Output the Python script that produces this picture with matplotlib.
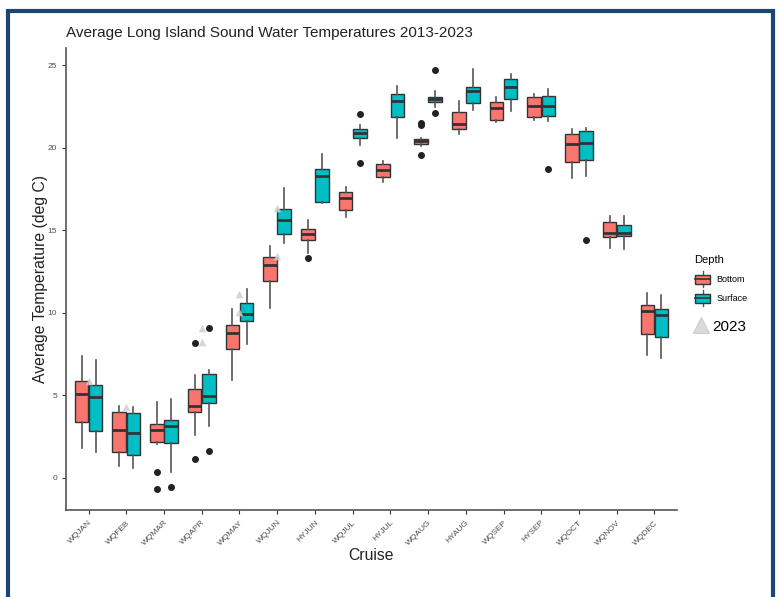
import numpy as np
import matplotlib.pyplot as plt
from matplotlib.patches import Rectangle
from matplotlib.lines import Line2D
from matplotlib.legend_handler import HandlerBase

plt.rcParams['font.family'] = ['Liberation Sans', 'DejaVu Sans']

cruises = ['WQJAN', 'WQFEB', 'WQMAR', 'WQAPR', 'WQMAY', 'WQJUN', 'HYJUN', 'WQJUL',
           'HYJUL', 'WQAUG', 'HYAUG', 'WQSEP', 'HYSEP', 'WQOCT', 'WQNOV', 'WQDEC']

# Bottom water: lower whisker, Q1, median, Q3, upper whisker
bot_lo = [1.84, 0.73, 2.04, 2.62, 5.93, 10.27, 13.60, 15.78, 17.90, 20.10, 20.82, 21.55, 21.67, 18.18, 13.90, 7.45]
bot_q1 = [3.41, 1.55, 2.16, 4.02, 7.79, 11.92, 14.39, 16.20, 18.24, 20.20, 21.13, 21.69, 21.85, 19.13, 14.61, 8.74]
bot_med = [5.10, 2.89, 2.93, 4.38, 8.80, 12.87, 14.75, 16.97, 18.62, 20.37, 21.45, 22.38, 22.52, 20.20, 14.85, 10.11]
bot_q3 = [5.89, 4.02, 3.29, 5.37, 9.26, 13.36, 15.07, 17.29, 18.98, 20.53, 22.14, 22.74, 23.06, 20.81, 15.52, 10.45]
bot_hi = [7.38, 4.38, 4.58, 6.23, 10.21, 14.04, 15.62, 17.63, 19.19, 20.58, 22.84, 23.06, 23.26, 21.11, 15.88, 11.18]
bot_out = {2: [0.36, -0.69], 3: [8.19, 1.13], 6: [13.34], 9: [21.47, 21.35, 19.55]}

# Surface water
sur_lo = [1.57, 0.63, 0.36, 3.17, 8.09, 14.21, 16.67, 20.16, 20.58, 22.44, 22.28, 22.20, 21.63, 18.28, 13.86, 7.25]
sur_q1 = [2.85, 1.41, 2.12, 4.52, 9.50, 14.75, 16.73, 20.60, 21.87, 22.74, 22.72, 22.94, 21.93, 19.25, 14.67, 8.52]
sur_med = [4.92, 2.70, 3.13, 4.98, 9.93, 15.62, 18.28, 20.87, 22.82, 22.92, 23.43, 23.69, 22.52, 20.28, 14.83, 9.88]
sur_q3 = [5.65, 3.91, 3.53, 6.28, 10.61, 16.28, 18.70, 21.13, 23.22, 23.08, 23.69, 24.13, 23.14, 21.00, 15.31, 10.23]
sur_hi = [7.12, 4.32, 4.78, 6.52, 11.46, 17.57, 19.59, 21.39, 23.75, 23.45, 24.76, 24.46, 23.57, 21.21, 15.84, 11.08]
sur_out = {2: [-0.52], 3: [9.06, 1.63], 7: [22.03, 19.05], 9: [24.68, 22.09], 12: [18.72], 13: [14.39]}

# 2023 observations (cruise index, temperature)
y2023_idx = [0, 1, 3, 3, 4, 4, 5, 5]
y2023_val = [5.9, 4.32, 9.10, 8.23, 11.12, 10.07, 13.46, 16.32]

red = '#F8766D'
teal = '#00BFC4'
edge = '#333333'


def make_stats(lo, q1, med, q3, hi, outs):
    stats = []
    for i in range(len(lo)):
        stats.append(dict(whislo=lo[i], q1=q1[i], med=med[i], q3=q3[i], whishi=hi[i],
                          fliers=outs.get(i, [])))
    return stats


class BoxKey(HandlerBase):
    def create_artists(self, legend, orig_handle, xd, yd, w, h, fontsize, trans):
        x0 = -xd + 0.05 * w
        bw = 0.9 * w
        y0 = -yd - 0.05 * h
        bh = 1.1 * h
        cx = x0 + bw / 2
        rect = Rectangle((x0, y0), bw, bh, facecolor=orig_handle.get_facecolor(),
                         edgecolor=edge, linewidth=1, transform=trans)
        med = Line2D([x0, x0 + bw], [y0 + bh / 2] * 2, color=edge, lw=1.2, transform=trans)
        w1 = Line2D([cx, cx], [y0 + bh, y0 + bh + 0.4 * h], color='#555555', lw=1, transform=trans)
        w2 = Line2D([cx, cx], [y0 - 0.4 * h, y0], color='#555555', lw=1, transform=trans)
        return [w1, w2, rect, med]


W, H = 778, 597
fig = plt.figure(figsize=(W / 100, H / 100), dpi=100)
ax = fig.add_axes([66 / W, 1 - 510 / H, (677 - 66) / W, (510 - 48) / H])

x = np.arange(len(cruises))
common = dict(widths=0.36, patch_artist=True, showcaps=False, manage_ticks=False,
              boxprops=dict(edgecolor=edge, linewidth=1.0),
              medianprops=dict(color=edge, linewidth=2.0),
              whiskerprops=dict(color='#555555', linewidth=1.2),
              flierprops=dict(marker='o', markerfacecolor='#222222', markeredgecolor='#222222',
                              markersize=4))

bb = ax.bxp(make_stats(bot_lo, bot_q1, bot_med, bot_q3, bot_hi, bot_out), positions=x - 0.1875, **common)
for p in bb['boxes']:
    p.set_facecolor(red)
sb = ax.bxp(make_stats(sur_lo, sur_q1, sur_med, sur_q3, sur_hi, sur_out), positions=x + 0.1875, **common)
for p in sb['boxes']:
    p.set_facecolor(teal)

ax.scatter(y2023_idx, y2023_val, marker='^', s=30, color='#cfcfcf', alpha=0.85, zorder=5, linewidths=0)

ax.set_xlim(-0.6, len(cruises) - 0.4)
ax.set_ylim(-1.94, 26.03)
ax.set_xticks(x)
ax.set_xticklabels(cruises, rotation=45, ha='right', rotation_mode='anchor', fontsize=6, color='#4d4d4d')
ax.set_yticks([0, 5, 10, 15, 20, 25])
ax.tick_params(axis='y', labelsize=6, labelcolor='#4d4d4d')
ax.tick_params(length=3, width=0.8, color='#333333')
for s in ['top', 'right']:
    ax.spines[s].set_visible(False)
for s in ['left', 'bottom']:
    ax.spines[s].set_color('#555555')
    ax.spines[s].set_linewidth(1.2)

fig.text(66 / W, 1 - 33 / H, 'Average Long Island Sound Water Temperatures 2013-2023',
         fontsize=11, va='center', ha='left', color='#222222')
fig.text(41 / W, 1 - 279 / H, 'Average Temperature (deg C)', fontsize=11.3, rotation=90,
         va='center', ha='center', color='#222222')
fig.text(371 / W, 1 - 556 / H, 'Cruise', fontsize=11.3, va='center', ha='center', color='#222222')

h1 = Rectangle((0, 0), 1, 1, facecolor=red)
h2 = Rectangle((0, 0), 1, 1, facecolor=teal)
fig.legend([h1, h2], ['Bottom', 'Surface'], title='Depth', loc='upper left',
           bbox_to_anchor=(686 / W, 1 - 247 / H), frameon=False, fontsize=6.5,
           title_fontsize=8, handler_map={Rectangle: BoxKey()}, handlelength=1.9,
           handleheight=1.0, handletextpad=0.6, labelspacing=1.1, alignment='left')
tri = Line2D([], [], marker='^', linestyle='none', markersize=12, color='#dadada',
             markeredgecolor='#cccccc', markeredgewidth=0.8)
fig.legend([tri], ['2023'], loc='upper left', bbox_to_anchor=(678 / W, 1 - 306 / H),
           frameon=False, fontsize=11, handletextpad=0.15, handlelength=1.2)

fig.add_artist(Rectangle((8 / W, -0.05), (773 - 8) / W, 0.05 + 1 - 11 / H, transform=fig.transFigure,
                         fill=False, edgecolor='#1c4670', linewidth=3.0))

fig.savefig('out.png', dpi=100)
